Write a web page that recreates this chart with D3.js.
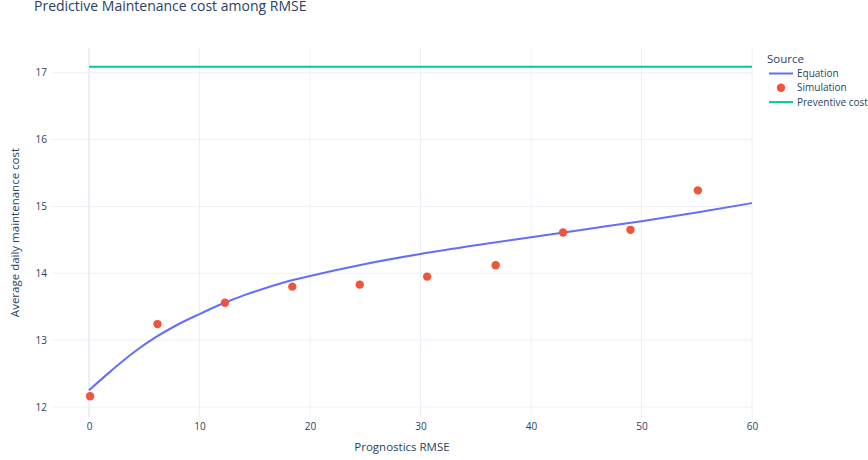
<!DOCTYPE html>
<html><head><meta charset="utf-8">
<script src="https://cdn.jsdelivr.net/npm/d3@7"></script>
<style>body{margin:0;background:#fff}svg{display:block}text{font-family:"Open Sans",verdana,arial,sans-serif}</style>
</head><body><svg id="c" width="868" height="460"></svg>
<script>
const title = "Predictive Maintenance cost among RMSE";
const xTitle = "Prognostics RMSE";
const yTitle = "Average daily maintenance cost";
const legendTitle = "Source";
const seriesNames = ["Equation", "Simulation", "Preventive cost"];
const xTicks = [0, 10, 20, 30, 40, 50, 60];
const yTicks = [12, 13, 14, 15, 16, 17];
// Equation curve
const eqX = [0, 2, 4, 6, 8, 10, 12, 14, 16, 18, 20, 25, 30, 35, 40, 45, 50, 55, 60];
const eqY = [12.25, 12.54, 12.81, 13.04, 13.23, 13.39, 13.54, 13.67, 13.78, 13.88, 13.96, 14.14, 14.29, 14.42, 14.54, 14.66, 14.78, 14.91, 15.05];
// Simulation points
const simX = [0.1, 6.2, 12.3, 18.4, 24.5, 30.6, 36.8, 42.9, 49.0, 55.1];
const simY = [12.16, 13.24, 13.56, 13.80, 13.83, 13.95, 14.12, 14.61, 14.65, 15.24];
// Preventive cost
const prevX = [0, 60];
const prevY = [17.09, 17.09];

const colors = ["#636efa", "#EF553B", "#00cc96"];
const svg = d3.select("#c");
const L = 52, R = 752, T = 48, B = 417;
const x = d3.scaleLinear().domain([-3.35, 60]).range([L, R]);
const y = d3.scaleLinear().domain([11.85, 17.37]).range([B, T]);
const ink = "#2a3f5f", grid = "#EBF0F8";

// grid
svg.append("g").selectAll("line").data(xTicks).join("line")
  .attr("x1", d => x(d)).attr("x2", d => x(d)).attr("y1", T).attr("y2", B)
  .attr("stroke", grid).attr("stroke-width", d => d === 0 ? 2 : 1);
svg.append("g").selectAll("line").data(yTicks).join("line")
  .attr("x1", L).attr("x2", R).attr("y1", d => y(d)).attr("y2", d => y(d))
  .attr("stroke", grid).attr("stroke-width", 1);

// axes via d3
const xa = svg.append("g").attr("transform", `translate(0,${B})`)
  .call(d3.axisBottom(x).tickValues(xTicks).tickSize(0).tickPadding(6).tickFormat(d3.format("d")));
const ya = svg.append("g").attr("transform", `translate(${L},0)`)
  .call(d3.axisLeft(y).tickValues(yTicks).tickSize(0).tickPadding(5).tickFormat(d3.format("d")));
[xa, ya].forEach(a => {
  a.select(".domain").remove();
  a.selectAll("text").attr("fill", ink).style("font-size", "10px").style("font-family", '"Open Sans",verdana,arial,sans-serif');
});

// lines
const line = d3.line().x(d => x(d[0])).y(d => y(d[1]));
svg.append("path").datum(prevX.map((v, i) => [v, prevY[i]]))
  .attr("d", line).attr("fill", "none").attr("stroke", colors[2]).attr("stroke-width", 2);
svg.append("path").datum(eqX.map((v, i) => [v, eqY[i]]))
  .attr("d", line.curve(d3.curveMonotoneX)).attr("fill", "none").attr("stroke", colors[0]).attr("stroke-width", 2);
svg.append("g").selectAll("circle").data(simX.map((v, i) => [v, simY[i]])).join("circle")
  .attr("cx", d => x(d[0])).attr("cy", d => y(d[1])).attr("r", 4.2).attr("fill", colors[1]);

// titles
svg.append("text").attr("x", 34).attr("y", 11).attr("fill", ink).style("font-size", "14px").text(title);
svg.append("text").attr("x", (L + R) / 2).attr("y", 451).attr("text-anchor", "middle").attr("fill", ink).style("font-size", "11.5px").text(xTitle);
svg.append("text").attr("transform", `translate(19,${(T + B) / 2}) rotate(-90)`).attr("text-anchor", "middle").attr("fill", ink).style("font-size", "11.5px").text(yTitle);

// legend
const lg = svg.append("g");
lg.append("text").attr("x", 767).attr("y", 63).attr("fill", ink).style("font-size", "11.5px").text(legendTitle);
seriesNames.forEach((n, i) => {
  const yy = 73.5 + i * 14.3;
  if (i === 1) lg.append("circle").attr("cx", 781).attr("cy", yy).attr("r", 4.2).attr("fill", colors[i]);
  else lg.append("line").attr("x1", 769).attr("x2", 793).attr("y1", yy).attr("y2", yy).attr("stroke", colors[i]).attr("stroke-width", 2);
  lg.append("text").attr("x", 797).attr("y", yy + 3.5).attr("fill", ink).style("font-size", "10px").text(n);
});
</script></body></html>
